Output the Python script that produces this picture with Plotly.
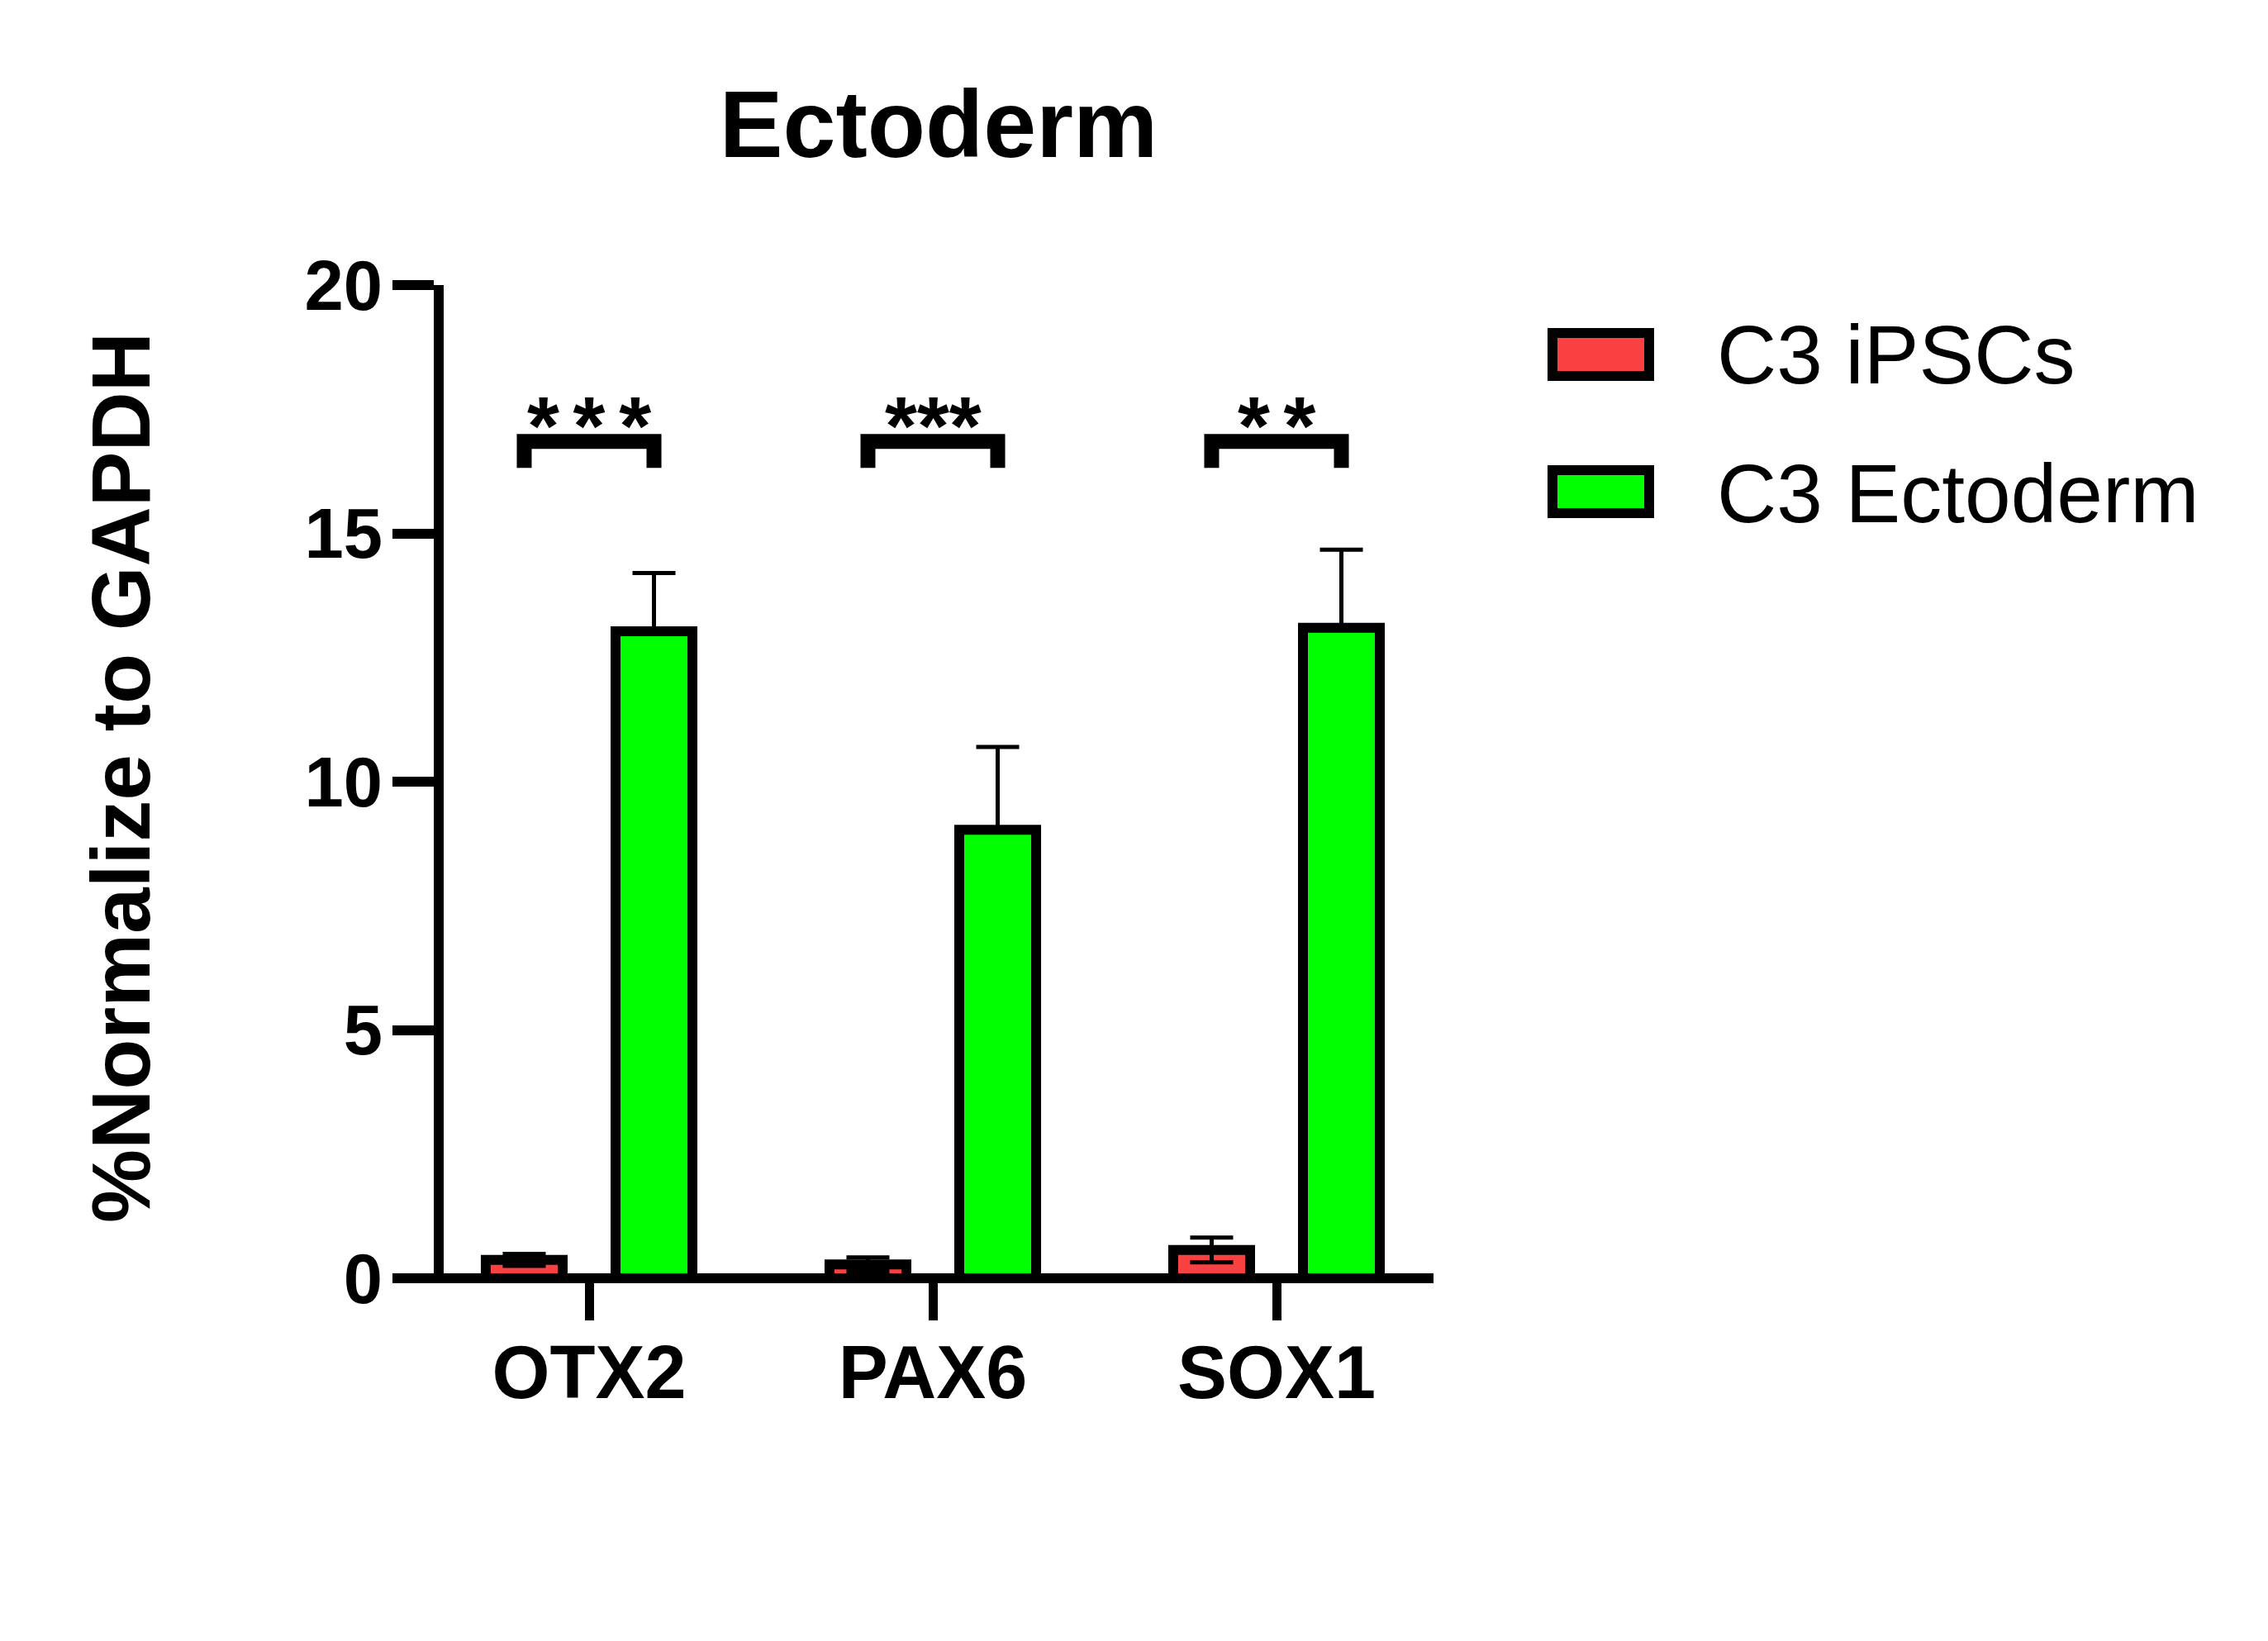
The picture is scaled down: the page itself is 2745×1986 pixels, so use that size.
import plotly.graph_objects as go

# ---------------- data ----------------
categories = ["OTX2", "PAX6", "SOX1"]
series_names = ["C3 iPSCs", "C3 Ectoderm"]
ipsc_mean = [0.37, 0.28, 0.57]
ipsc_err = [0.12, 0.14, 0.25]
ecto_mean = [13.03, 9.03, 13.10]
ecto_err = [1.17, 1.67, 1.57]
sig_labels = ["*\u2006*\u2006*", "***", "*\u2006*"]
y_tick_vals = [0, 5, 10, 15, 20]
chart_title = "Ectoderm"
y_title = "%Normalize to GAPDH"

# ---------------- styling / geometry ----------------
OFF = 8                      # page body margin
W, H = 2745 - OFF, 1986 - OFF
Lr, Rr, Tr, Br = 537, 1735, 345, 1547   # plot area in screen pixels
RED = "#F94141"
GREEN = "#00FF00"
FONT = "Liberation Sans"
BARGAP = 0.245
GROUPGAP = 0.4075


def px_x(p):
    return (p - Lr) / (Rr - Lr)


def px_y(p):
    return (Br - p) / (Br - Tr)


fig = go.Figure()
fig.add_trace(go.Bar(
    x=categories, y=ipsc_mean, name=series_names[0],
    marker=dict(color=RED, line=dict(color="black", width=12)),
    error_y=dict(type="data", array=ipsc_err, symmetric=True,
                 color="black", thickness=5, width=26),
))
fig.add_trace(go.Bar(
    x=categories, y=ecto_mean, name=series_names[1],
    marker=dict(color=GREEN, line=dict(color="black", width=12)),
    error_y=dict(type="data", array=ecto_err, arrayminus=[0] * len(ecto_err),
                 symmetric=False, color="black", thickness=5, width=26),
))

shapes = []
# x-axis baseline (drawn on top of the bars, like the original)
shapes.append(dict(type="line", xref="paper", yref="paper",
                   x0=px_x(480), x1=1, y0=0, y1=0,
                   line=dict(color="black", width=12), layer="above"))

# significance brackets spanning the two bar centres of each group
half = (1 - BARGAP) / 4
y_top, y_leg = 16.85, 16.32
annotations = []
for i, lab in enumerate(sig_labels):
    x0, x1 = i - half, i + half
    shapes.append(dict(type="path", xref="x", yref="y",
                       path=f"M {x0},{y_leg} L {x0},{y_top} L {x1},{y_top} L {x1},{y_leg}",
                       line=dict(color="black", width=18)))
    annotations.append(dict(x=i, y=16.2, xref="x", yref="y", text=lab,
                            showarrow=False, xanchor="center", yanchor="bottom",
                            font=dict(family=FONT, size=100, color="black", weight="bold")))

# custom legend
leg_rows = [(403, 455, RED, 429), (569, 621, GREEN, 597)]
for (ya, yb, col, ytxt), name in zip(leg_rows, series_names):
    shapes.append(dict(type="rect", xref="paper", yref="paper",
                       x0=px_x(1879), x1=px_x(1996), y0=px_y(yb), y1=px_y(ya),
                       fillcolor=col, line=dict(color="black", width=12)))
    annotations.append(dict(x=px_x(2076), y=px_y(ytxt), xref="paper", yref="paper",
                            text=name, showarrow=False, xanchor="left", yanchor="middle",
                            font=dict(family=FONT, size=100, color="black")))

# y-axis title
annotations.append(dict(x=px_x(146), y=px_y(941), xref="paper", yref="paper",
                        text=y_title, textangle=-90, showarrow=False,
                        xanchor="center", yanchor="middle",
                        font=dict(family=FONT, size=100, color="black", weight="bold")))

fig.update_layout(
    width=W, height=H,
    margin=dict(l=Lr - OFF, r=2745 - Rr, t=Tr - OFF, b=1986 - Br, pad=0, autoexpand=False),
    paper_bgcolor="white", plot_bgcolor="white",
    barmode="group", bargap=BARGAP, bargroupgap=GROUPGAP,
    showlegend=False,
    title=dict(text=chart_title, x=0.5, xref="paper", xanchor="center",
               y=1 - (150 - OFF) / H, yref="container", yanchor="middle",
               font=dict(family=FONT, size=115, color="black", weight="bold")),
    shapes=shapes, annotations=annotations,
)
fig.update_xaxes(
    type="category", range=[(Lr - 713) / 416, (Rr - 713) / 416],
    showline=False, showgrid=False, zeroline=False,
    ticks="outside", ticklen=50, tickwidth=11, tickcolor="black",
    ticklabelstandoff=-14,
    tickfont=dict(family=FONT, size=90, color="black", weight="bold"),
)
fig.update_yaxes(
    range=[0, 20], tickvals=y_tick_vals,
    showline=True, linewidth=12, linecolor="black",
    showgrid=False, zeroline=False,
    ticks="outside", ticklen=50, tickwidth=12, tickcolor="black",
    ticklabelstandoff=-5,
    tickfont=dict(family=FONT, size=85, color="black", weight="bold"),
)

fig.write_html("out.html")
